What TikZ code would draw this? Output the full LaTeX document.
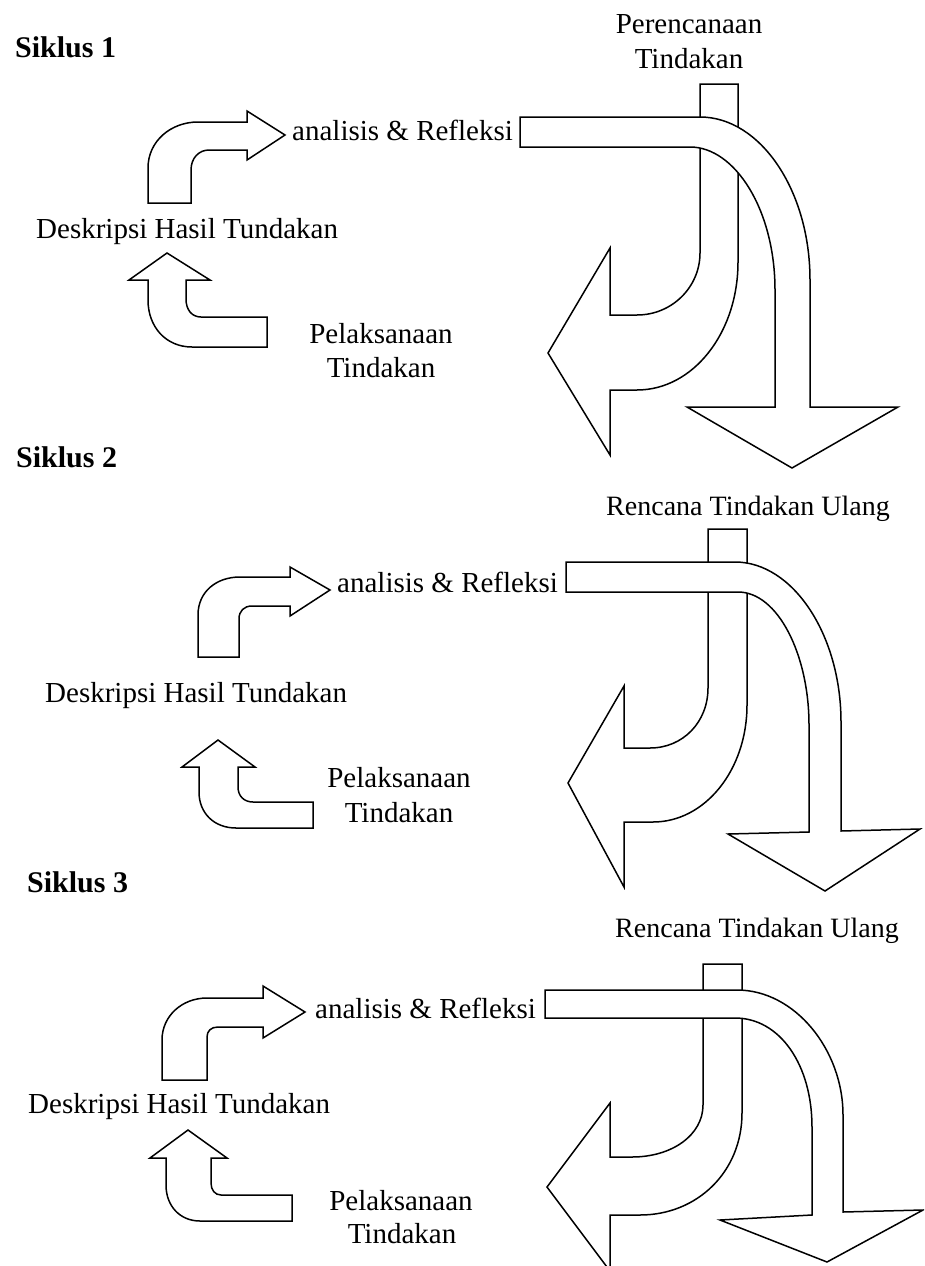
\documentclass[tikz,border=0pt]{standalone}
\usepackage{fontspec}
\setmainfont{Liberation Serif}
\begin{document}
\begin{tikzpicture}[x=1pt,y=-1pt,
  blockarrow/.style={draw=black, fill=white, line width=1.5pt, line join=miter},
  lbl/.style={font=\fontsize{29}{34}\selectfont, inner sep=0pt},
  lblsm/.style={font=\fontsize{28}{33}\selectfont, inner sep=0pt},
  title/.style={font=\fontsize{30}{35}\selectfont\bfseries, inner sep=0pt}]
\useasboundingbox (0,0) rectangle (924,1266);
\clip (0,0) rectangle (924,1266);
\fill[white] (0,0) rectangle (924,1266);

% ---------------- Siklus 1 ----------------
\node[title, anchor=base west] (s1) at (15,57) {Siklus 1};
\node[lbl, anchor=base] (p1a) at (689,33) {Perencanaan};
\node[lbl, anchor=base] (p1b) at (689,68) {Tindakan};
\draw[blockarrow] (700,84) -- (738,84) -- (738,262) .. controls (738,333) and (693,390) .. (637,390) -- (610,390) -- (610,455) -- (548,353) -- (610,248) -- (610,315) -- (637,315) .. controls (672,315) and (700,287) .. (700,253) -- cycle;
\draw[blockarrow] (520,117) -- (700,117) .. controls (760,117) and (810,190) .. (810,280) -- (810,407) -- (898,407) -- (792,468) -- (687,407) -- (775,407) -- (775,290) .. controls (775,210) and (735,147) .. (690,147) -- (520,147) -- cycle;
\draw[blockarrow] (148,203) -- (148,168) .. controls (148,141) and (171,122) .. (198,122) -- (247,122) -- (247,111) -- (285,135) -- (247,160) -- (247,150) -- (209,150) .. controls (199,150) and (191,158) .. (191,170) -- (191,203) -- cycle;
\draw[blockarrow] (267,317) -- (201,317) .. controls (192,317) and (186,310) .. (186,299) -- (186,280) -- (210,280) -- (167,253) -- (129,280) -- (148,280) -- (148,300) .. controls (148,327) and (166,347) .. (192,347) -- (267,347) -- cycle;
\node[lbl, anchor=base west] (a1) at (292,140) {analisis \& Refleksi};
\node[lbl, anchor=base west] (d1) at (36,238) {Deskripsi Hasil Tundakan};
\node[lbl, anchor=base] (e1a) at (381,343) {Pelaksanaan};
\node[lbl, anchor=base] (e1b) at (381,377) {Tindakan};

% ---------------- Siklus 2 ----------------
\node[title, anchor=base west] (s2) at (16,467) {Siklus 2};
\node[lblsm, anchor=base] (r2) at (748,515) {Rencana Tindakan Ulang};
\draw[blockarrow] (708,529) -- (747,529) -- (747,705) .. controls (747,770) and (705,822) .. (653,822) -- (624,822) -- (624,887) -- (568,783) -- (624,686) -- (624,748) -- (650,748) .. controls (683,748) and (708,722) .. (708,688) -- cycle;
\draw[blockarrow] (566,562) -- (735,562) .. controls (793,562) and (841,635) .. (841,722) -- (841,831) -- (920,829) -- (825,891) -- (728,834) -- (809,832) -- (809,725) .. controls (809,655) and (778,592) .. (738,592) -- (566,592) -- cycle;
\draw[blockarrow] (198,657) -- (198,615) .. controls (198,592) and (216,577) .. (240,577) -- (290,577) -- (290,567) -- (330,590) -- (290,616) -- (290,606) -- (252,606) .. controls (244,606) and (239,611) .. (239,619) -- (239,657) -- cycle;
\draw[blockarrow] (313,802) -- (253,802) .. controls (244,802) and (238,796) .. (238,787) -- (238,767) -- (255,767) -- (218,740) -- (182,767) -- (199,767) -- (199,792) .. controls (199,813) and (214,828) .. (236,828) -- (313,828) -- cycle;
\node[lbl, anchor=base west] (a2) at (337,592) {analisis \& Refleksi};
\node[lbl, anchor=base west] (d2) at (45,702) {Deskripsi Hasil Tundakan};
\node[lbl, anchor=base] (e2a) at (399,787) {Pelaksanaan};
\node[lbl, anchor=base] (e2b) at (399,822) {Tindakan};

% ---------------- Siklus 3 ----------------
\node[title, anchor=base west] (s3) at (27,892) {Siklus 3};
\node[lblsm, anchor=base] (r3) at (757,937) {Rencana Tindakan Ulang};
\draw[blockarrow] (703,964) -- (742,964) -- (742,1113) .. controls (742,1172) and (697,1215) .. (640,1215) -- (610,1215) -- (610,1271) -- (547,1187) -- (610,1103) -- (610,1157) -- (632,1157) .. controls (672,1157) and (703,1135) .. (703,1105) -- cycle;
\draw[blockarrow] (545,990) -- (737,990) .. controls (795,990) and (843,1050) .. (843,1115) -- (843,1212) -- (923,1210) -- (827,1262) -- (720,1220) -- (812,1215) -- (812,1127) .. controls (812,1065) and (780,1018) .. (735,1018) -- (545,1018) -- cycle;
\draw[blockarrow] (162,1080) -- (162,1040) .. controls (162,1016) and (182,998) .. (207,998) -- (263,998) -- (263,986) -- (305,1012) -- (263,1038) -- (263,1027) -- (218,1027) .. controls (211,1027) and (207,1031) .. (207,1037) -- (207,1080) -- cycle;
\draw[blockarrow] (292,1195) -- (221,1195) .. controls (215,1195) and (211,1190) .. (211,1183) -- (211,1158) -- (227,1158) -- (188,1130) -- (150,1158) -- (166,1158) -- (166,1185) .. controls (166,1206) and (180,1221) .. (200,1221) -- (292,1221) -- cycle;
\node[lbl, anchor=base west] (a3) at (315,1018) {analisis \& Refleksi};
\node[lbl, anchor=base west] (d3) at (28,1113) {Deskripsi Hasil Tundakan};
\node[lbl, anchor=base] (e3a) at (401,1210) {Pelaksanaan};
\node[lbl, anchor=base] (e3b) at (402,1243) {Tindakan};
\end{tikzpicture}
\end{document}
